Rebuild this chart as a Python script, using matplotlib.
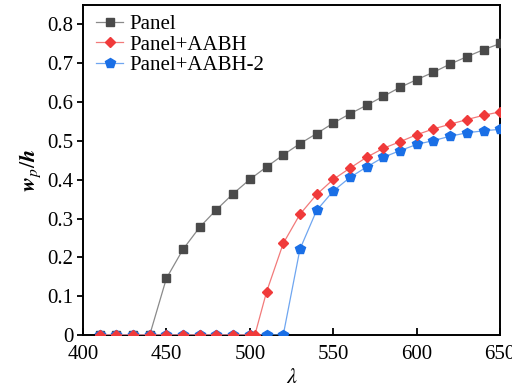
import matplotlib
matplotlib.use("Agg")
import matplotlib.pyplot as plt

# data
panel_x = [410, 420, 430, 440, 450, 460, 470, 480, 490, 500, 510, 520, 530, 540,
           550, 560, 570, 580, 590, 600, 610, 620, 630, 640, 650]
panel_y = [0, 0, 0, 0, 0.146, 0.221, 0.278, 0.323, 0.364, 0.401, 0.433, 0.464,
           0.493, 0.519, 0.546, 0.570, 0.592, 0.615, 0.638, 0.658, 0.677, 0.698,
           0.717, 0.735, 0.751]

aabh_x = [410, 420, 430, 440, 450, 460, 470, 480, 490, 500, 503, 510, 520, 530,
          540, 550, 560, 570, 580, 590, 600, 610, 620, 630, 640, 650]
aabh_y = [0, 0, 0, 0, 0, 0, 0, 0, 0, 0, 0, 0.111, 0.236, 0.311, 0.362, 0.401,
          0.430, 0.458, 0.481, 0.498, 0.516, 0.531, 0.543, 0.555, 0.566, 0.575]

aabh2_x = [410, 420, 430, 440, 450, 460, 470, 480, 490, 500, 510, 520, 530, 540,
           550, 560, 570, 580, 590, 600, 610, 620, 630, 640, 650]
aabh2_y = [0, 0, 0, 0, 0, 0, 0, 0, 0, 0, 0, 0, 0.221, 0.321, 0.371, 0.406,
           0.433, 0.458, 0.475, 0.491, 0.501, 0.512, 0.521, 0.526, 0.530]

labels = ["Panel", "Panel+AABH", "Panel+AABH-2"]

plt.rcParams["font.family"] = ["Liberation Serif", "DejaVu Serif"]
plt.rcParams["mathtext.fontset"] = "stix"

fig = plt.figure(figsize=(5.12, 3.9), dpi=100)
ax = fig.add_axes([0.162, 0.141, 0.815, 0.846])

l1, = ax.plot(panel_x, panel_y, color="#8a8a8a", lw=0.9, marker="s", ms=5.5,
              mfc="#4a4a4a", mec="#4a4a4a", label=labels[0], zorder=3)
l3, = ax.plot(aabh2_x, aabh2_y, color="#6fa6f0", lw=0.9, marker="p", ms=7,
              mfc="#1a6fe6", mec="#1a6fe6", label=labels[2], zorder=4)
l2, = ax.plot(aabh_x, aabh_y, color="#f27a7a", lw=0.9, marker="D", ms=5,
              mfc="#f03a3a", mec="#f03a3a", label=labels[1], zorder=5)

ax.legend([l1, l2, l3], labels,
          loc="upper left", frameon=False, fontsize=15, handlelength=1.25,
          handletextpad=0.35, labelspacing=0.05, borderaxespad=0.05,
          bbox_to_anchor=(0.01, 1.0))

ax.set_xlim(400, 650)
ax.set_ylim(0, 0.85)
ax.set_xticks([400, 450, 500, 550, 600, 650])
ax.set_yticks([0, 0.1, 0.2, 0.3, 0.4, 0.5, 0.6, 0.7, 0.8])
ax.set_yticklabels(["0", "0.1", "0.2", "0.3", "0.4", "0.5", "0.6", "0.7", "0.8"])
ax.tick_params(axis="x", direction="in", length=5, width=1.3, labelsize=15, pad=7)
ax.tick_params(axis="y", direction="out", length=4, width=1.3, labelsize=15, pad=3)
for s in ax.spines.values():
    s.set_linewidth(1.4)

ax.set_xlabel(r"$\lambda$", fontsize=16, labelpad=4)
ax.set_ylabel(r"$\boldsymbol{w}_{p}/\boldsymbol{h}$", fontsize=16, labelpad=3)

fig.savefig("out.png", dpi=100)
